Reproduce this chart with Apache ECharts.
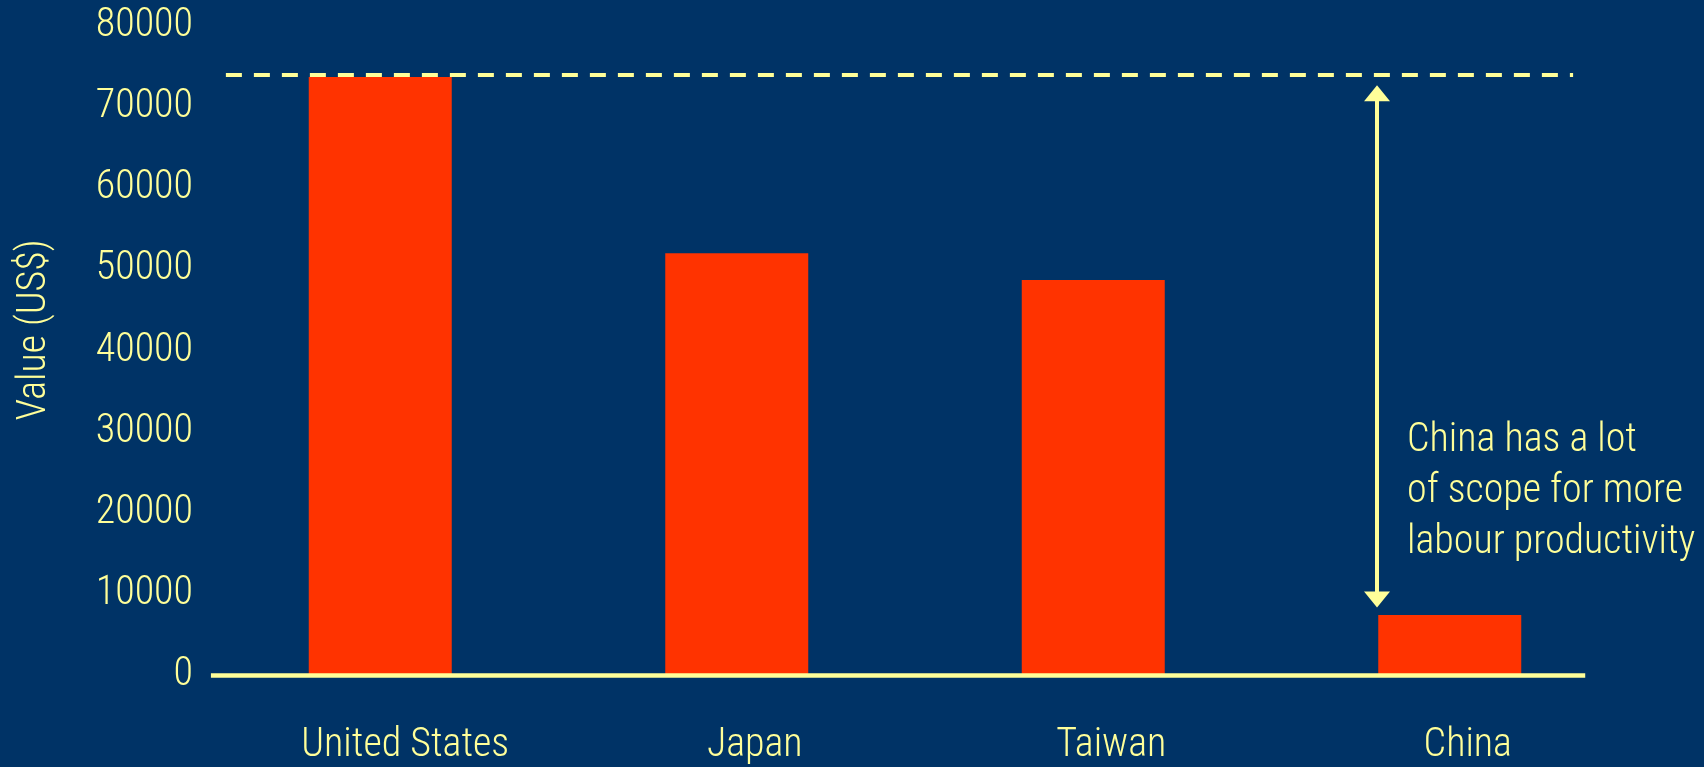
<!DOCTYPE html>
<html>
<head>
<meta charset="utf-8">
<script src="https://cdn.jsdelivr.net/npm/echarts@6/dist/echarts.min.js"></script>
<style>
html,body{margin:0;padding:0;background:#003366;}
#chart{width:1704px;height:767px;}
</style>
</head>
<body>
<div id="chart"></div>
<script>
// ---- data ----
const categories = ['United States', 'Japan', 'Taiwan', 'China'];
const values = [73700, 52000, 48700, 7400];
const yTicks = [0, 10000, 20000, 30000, 40000, 50000, 60000, 70000, 80000];
const yAxisTitle = 'Value (US$)';
const annotationLines = ['China has a lot', 'of scope for more', 'labour productivity'];
// annotation geometry (in category-band units on a hidden value axis, and data values)
const refLineValue = 74000;
const refLineSpan = [0.067, 3.846];
const baselineSpan = [0.025, 3.88];
const arrowX = 3.296;
const arrowFromTo = [71700, 9300];

const FONT = "'Roboto Condensed', Roboto, 'DejaVu Sans Condensed', sans-serif";
const TXT = '#FFFF99';
const labelFont = {color: TXT, fontFamily: FONT, fontSize: 40, fontWeight: 300};

const chart = echarts.init(document.getElementById('chart'), null, {renderer: 'canvas'});
chart.setOption({
  animation: false,
  backgroundColor: '#003366',
  grid: {left: 202, right: 76, top: 26, bottom: 92, containLabel: false},
  xAxis: [
    {
      type: 'category', data: categories, position: 'bottom',
      axisLine: {show: false}, axisTick: {show: false},
      axisLabel: Object.assign({}, labelFont, {
        margin: 51, padding: [0, 0, 0, 36],
        formatter: (v) => v === categories[0] ? '{w|' + v + '}' : v,
        rich: {w: Object.assign({}, labelFont, {padding: [0, 0, 0, 14]})}
      })
    },
    {type: 'value', min: 0, max: 4, show: false}
  ],
  yAxis: {
    type: 'value', min: yTicks[0], max: yTicks[yTicks.length - 1], interval: yTicks[1] - yTicks[0],
    axisLine: {show: false}, axisTick: {show: false}, splitLine: {show: false},
    axisLabel: Object.assign({}, labelFont, {margin: 9, formatter: (v) => String(v)})
  },
  series: [
    {
      type: 'bar', data: values, xAxisIndex: 0, barWidth: 143,
      itemStyle: {color: '#FF3300'}, z: 2
    },
    {
      type: 'line', xAxisIndex: 1, data: [], silent: true, z: 5,
      markLine: {
        silent: true, animation: false,
        label: {show: false},
        data: [
          [{coord: [refLineSpan[0], refLineValue], symbol: 'none', lineStyle: {type: [16, 12], width: 4, color: TXT}},
           {coord: [refLineSpan[1], refLineValue], symbol: 'none'}],
          [{coord: [baselineSpan[0], 0], symbol: 'none', lineStyle: {type: 'solid', width: 4.5, color: TXT}},
           {coord: [baselineSpan[1], 0], symbol: 'none'}],
          [{coord: [arrowX, arrowFromTo[0]], symbol: 'triangle', symbolSize: [26, 16], lineStyle: {type: 'solid', width: 4, color: TXT}},
           {coord: [arrowX, arrowFromTo[1]], symbol: 'triangle', symbolSize: [26, 16]}]
        ],
        itemStyle: {color: TXT}
      }
    }
  ],
  graphic: [
    {
      type: 'text', x: 35, y: 330, rotation: Math.PI / 2,
      style: {text: yAxisTitle, fill: TXT, font: '300 40px ' + FONT, align: 'center', verticalAlign: 'middle'}
    },
    {
      type: 'text', x: 1407, y: 415,
      style: {text: annotationLines.join('\n'), fill: TXT, font: '300 40px ' + FONT, lineHeight: 51, align: 'left', verticalAlign: 'top'}
    }
  ]
});
</script>
</body>
</html>
